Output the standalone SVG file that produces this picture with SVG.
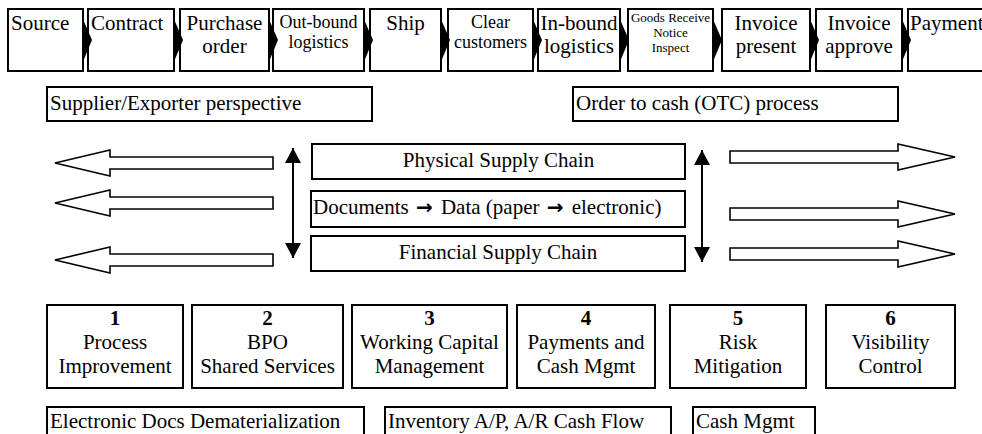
<svg xmlns="http://www.w3.org/2000/svg" width="982" height="434" viewBox="0 0 982 434" font-family="'Liberation Serif', 'Times New Roman', serif">
<defs>
<style>
.box{fill:#fff;stroke:#000;stroke-width:2}
.chev{fill:#000}
text{font-family:'Liberation Serif', 'Times New Roman', Times, serif;font-size:21px;fill:#000}
text.s{font-size:18px}
text.xs{font-size:13px}
.c{text-anchor:middle}
.b{font-weight:bold}
.arr{font-family:'DejaVu Sans', sans-serif;font-weight:bold;font-size:20px}
.blk{fill:#fff;stroke:#000;stroke-width:1.6}
.dbl{stroke:#000;stroke-width:2;fill:none;marker-start:url(#ah);marker-end:url(#ah)}
</style>
<marker id="ah" markerUnits="userSpaceOnUse" markerWidth="15" markerHeight="16" refX="15" refY="8" orient="auto-start-reverse" viewBox="0 0 15 16">
<path d="M0,0 L15,8 L0,16 z" fill="#000"/>
</marker>
</defs>
<rect width="982" height="434" fill="#fff"/>

<g id="top-row">
<g id="n-source"><rect class="box" x="8" y="9" width="75" height="62"/><text x="11" y="30">Source</text></g>
<g id="n-contract"><rect class="box" x="88" y="9" width="86" height="62"/><text x="91" y="30">Contract</text></g>
<g id="n-purchase"><rect class="box" x="180" y="9" width="89" height="62"/><text class="c" x="224.5" y="30">Purchase</text><text class="c" x="224.5" y="53">order</text></g>
<g id="n-outbound"><rect class="box" x="273" y="9" width="91" height="62"/><text class="s c" x="318.5" y="28">Out-bound</text><text class="s c" x="318.5" y="48">logistics</text></g>
<g id="n-ship"><rect class="box" x="370" y="9" width="71" height="62"/><text class="c" x="405.5" y="30">Ship</text></g>
<g id="n-clear"><rect class="box" x="448" y="9" width="85" height="62"/><text class="s c" x="490.5" y="28">Clear</text><text class="s c" x="490.5" y="48">customers</text></g>
<g id="n-inbound"><rect class="box" x="538" y="9" width="82" height="62"/><text class="c" x="579" y="30">In-bound</text><text class="c" x="579" y="53">logistics</text></g>
<g id="n-goods"><rect class="box" x="628" y="9" width="85" height="62"/><text class="xs c" x="670.5" y="22">Goods Receive</text><text class="xs c" x="670.5" y="37">Notice</text><text class="xs c" x="670.5" y="52">Inspect</text></g>
<g id="n-invpresent"><rect class="box" x="722" y="9" width="88" height="62"/><text class="c" x="766" y="30">Invoice</text><text class="c" x="766" y="53">present</text></g>
<g id="n-invapprove"><rect class="box" x="816" y="9" width="86" height="62"/><text class="c" x="859" y="30">Invoice</text><text class="c" x="859" y="53">approve</text></g>
<g id="n-payment"><rect class="box" x="908" y="9" width="84" height="62"/><text x="910" y="30">Payment</text></g>
</g>

<g id="connectors">
<polygon class="chev" points="82,17 92,40 82,64"/>
<polygon class="chev" points="173,17 183,40 173,64"/>
<polygon class="chev" points="268,17 278,40 268,64"/>
<polygon class="chev" points="363,17 373,40 363,64"/>
<polygon class="chev" points="440,17 450,40 440,64"/>
<polygon class="chev" points="532,17 542,40 532,64"/>
<polygon class="chev" points="619,17 629,40 619,64"/>
<polygon class="chev" points="712,17 722,40 712,64"/>
<polygon class="chev" points="809,17 819,40 809,64"/>
<polygon class="chev" points="901,17 911,40 901,64"/>

<polygon class="blk" points="273,157 110,157 110,150 55,163 110,176 110,169 273,169"/>
<polygon class="blk" points="273,197 110,197 110,190 55,203 110,216 110,209 273,209"/>
<polygon class="blk" points="273,254 110,254 110,247 55,260 110,273 110,266 273,266"/>

<polygon class="blk" points="730,151 898,151 898,144 955,157 898,170 898,163 730,163"/>
<polygon class="blk" points="730,208 898,208 898,201 955,214 898,227 898,220 730,220"/>
<polygon class="blk" points="730,248 898,248 898,241 955,254 898,267 898,260 730,260"/>

<line class="dbl" x1="293" y1="148" x2="293" y2="258"/>
<line class="dbl" x1="702" y1="150" x2="702" y2="262"/>
</g>

<g id="n-supplier"><rect class="box" x="47" y="87" width="325" height="34"/><text x="50" y="110">Supplier/Exporter perspective</text></g>
<g id="n-otc"><rect class="box" x="573" y="87" width="325" height="34"/><text x="576" y="110">Order to cash (OTC) process</text></g>

<g id="n-physical"><rect class="box" x="312" y="144" width="373" height="35"/><text class="c" x="498.5" y="167">Physical Supply Chain</text></g>
<g id="n-documents"><rect class="box" x="311" y="191" width="374" height="36"/><text x="313" y="214">Documents <tspan class="arr" dx="2">→</tspan><tspan dx="3"> Data (paper </tspan><tspan class="arr" dx="2">→</tspan><tspan dx="3"> electronic)</tspan></text></g>
<g id="n-financial"><rect class="box" x="311" y="236" width="374" height="35"/><text class="c" x="498" y="259">Financial Supply Chain</text></g>

<g id="n-1"><rect class="box" x="47" y="305" width="136" height="83"/><text class="c b" x="115" y="325">1</text><text class="c" x="115" y="349">Process</text><text class="c" x="115" y="373">Improvement</text></g>
<g id="n-2"><rect class="box" x="192" y="305" width="151" height="83"/><text class="c b" x="267.5" y="325">2</text><text class="c" x="267.5" y="349">BPO</text><text class="c" x="267.5" y="373">Shared Services</text></g>
<g id="n-3"><rect class="box" x="352" y="305" width="155" height="83"/><text class="c b" x="429.5" y="325">3</text><text class="c" x="429.5" y="349">Working Capital</text><text class="c" x="429.5" y="373">Management</text></g>
<g id="n-4"><rect class="box" x="517" y="305" width="138" height="83"/><text class="c b" x="586" y="325">4</text><text class="c" x="586" y="349">Payments and</text><text class="c" x="586" y="373">Cash Mgmt</text></g>
<g id="n-5"><rect class="box" x="670" y="305" width="136" height="83"/><text class="c b" x="738" y="325">5</text><text class="c" x="738" y="349">Risk</text><text class="c" x="738" y="373">Mitigation</text></g>
<g id="n-6"><rect class="box" x="826" y="305" width="129" height="83"/><text class="c b" x="890.5" y="325">6</text><text class="c" x="890.5" y="349">Visibility</text><text class="c" x="890.5" y="373">Control</text></g>

<g id="n-electronic"><rect class="box" x="47" y="407" width="317" height="40"/><text x="50" y="428">Electronic Docs Dematerialization</text></g>
<g id="n-inventory"><rect class="box" x="385" y="407" width="286" height="40"/><text x="388" y="428">Inventory A/P, A/R Cash Flow</text></g>
<g id="n-cash"><rect class="box" x="693" y="407" width="122" height="40"/><text x="696" y="428">Cash Mgmt</text></g>
</svg>
